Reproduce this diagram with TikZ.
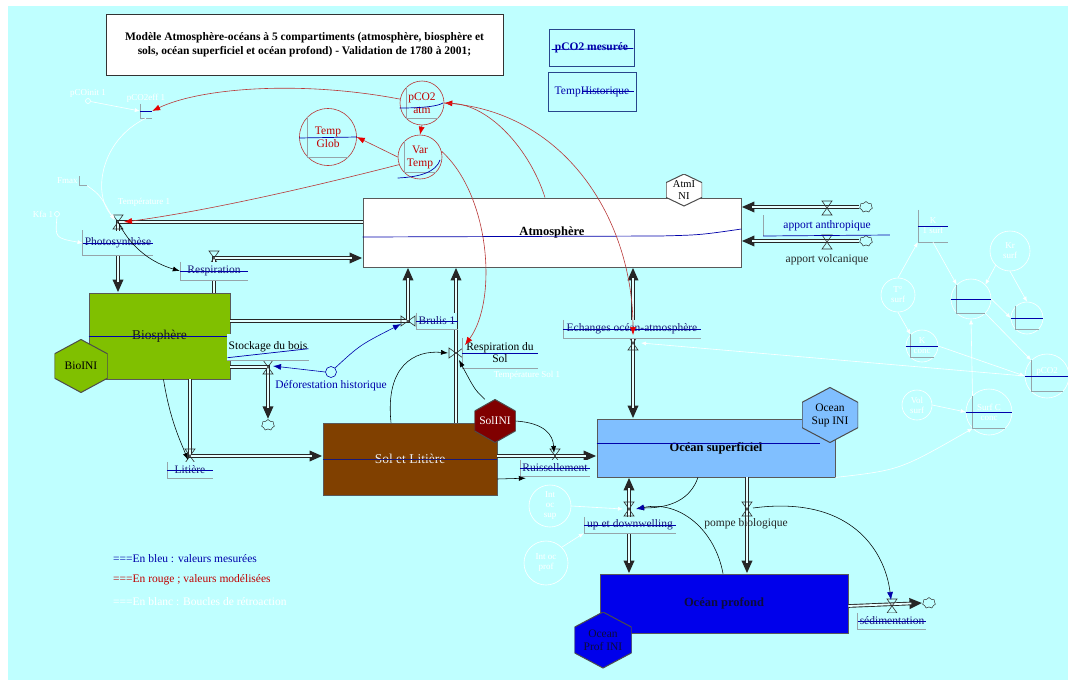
\documentclass[tikz,border=0pt]{standalone}
\usepackage{fontspec}
\setmainfont{Liberation Serif}
\usetikzlibrary{arrows.meta,calc,shapes.symbols,positioning}
\definecolor{bgcyan}{RGB}{191,255,255}
\definecolor{biogreen}{RGB}{128,192,0}
\definecolor{solbrown}{RGB}{128,64,0}
\definecolor{inired}{RGB}{128,0,0}
\definecolor{supblue}{RGB}{128,191,255}
\definecolor{profblue}{RGB}{0,0,235}
\definecolor{modred}{RGB}{185,55,55}
\definecolor{tipred}{RGB}{230,0,0}
\definecolor{navy}{RGB}{25,25,120}
\definecolor{graphblue}{RGB}{0,0,170}
\definecolor{framegray}{RGB}{150,165,170}
\definecolor{boxblue}{RGB}{40,70,140}

\begin{document}
\begin{tikzpicture}[x=1pt, y=-1pt,
    every node/.style={font=\fontsize{11.5}{13}\selectfont, inner sep=1pt, align=center},
    stock/.style 2 args={draw=black!65, line width=0.9pt, minimum width=#1, minimum height=#2, inner sep=0},
    hexa/.style n args={3}{minimum width=#1, minimum height=#2, inner sep=0,
        path picture={\filldraw[fill=#3, draw=black!70, line width=1pt]
            (path picture bounding box.north)
            -- ($(path picture bounding box.north east)!.27!(path picture bounding box.south east)$)
            -- ($(path picture bounding box.north east)!.73!(path picture bounding box.south east)$)
            -- (path picture bounding box.south)
            -- ($(path picture bounding box.north west)!.73!(path picture bounding box.south west)$)
            -- ($(path picture bounding box.north west)!.27!(path picture bounding box.south west)$)
            -- cycle;}},
    pipe/.style={draw=black!85, line width=3.6pt, -{Triangle[length=13pt,width=10pt]},
        postaction={draw=white!60!bgcyan, line width=1.8pt, -, shorten >=11pt}},
    bipipe/.style={draw=black!85, line width=3.6pt, {Triangle[length=13pt,width=10pt]}-{Triangle[length=13pt,width=10pt]},
        postaction={draw=white!60!bgcyan, line width=1.8pt, -, shorten >=11pt, shorten <=11pt}},
    valve/.style={draw=black!80, line width=0.6pt},
    sink/.style={cloud, cloud puffs=7, draw=black!80, line width=0.5pt, minimum width=13, minimum height=11, inner sep=0},
    flowlab/.style={fill=bgcyan, text=navy, minimum height=16, inner xsep=2pt},
    grframe/.style={draw=framegray, line width=0.6pt},
    graphline/.style={draw=graphblue, line width=0.7pt},
    conv/.style={circle, draw=modred, line width=0.6pt, text=red!75!black, inner sep=0},
    info/.style={draw=black, line width=0.55pt, -{Latex[length=7pt,width=5pt]}},
    modinfo/.style={draw=modred, line width=0.6pt, -{Latex[length=8pt,width=6pt,color=tipred]}},
    bluetip/.style={-{Latex[length=8pt,width=6pt,color=graphblue]}},
    ghosttext/.style={text=white, font=\fontsize{9}{10}\selectfont},
    ghostc/.style={ghosttext, circle, draw=white, line width=0.6pt, inner sep=0},
    ghostarrow/.style={draw=white, line width=0.6pt, -{Latex[length=5pt,width=4pt]}}
]
\useasboundingbox (0,0) rectangle (1068,688);
\fill[white] (0,0) rectangle (1068,688);
\fill[bgcyan] (8,6) rectangle (1068,680);

% valves
\coordinate (vphoto) at (118,222);
\coordinate (vresp) at (214,258);
\coordinate (vbrul) at (408,321);
\coordinate (vdefo) at (268,367);
\coordinate (vrsol) at (456,353);
\coordinate (vlit) at (190,456);
\coordinate (vruis) at (555,456);
\coordinate (vech) at (633,343);
\coordinate (vanth) at (827,208);
\coordinate (vvolc) at (827,242);
\coordinate (vup) at (629,509);
\coordinate (vpompe) at (747,509);
\coordinate (vsed) at (892,606);

% feedback loops drawn in white
\node[ghostc, minimum size=5, label={[ghosttext]above:pCOinit 1}] (gpinit) at (88,101) {};
\node[minimum width=12, minimum height=14, inner sep=0, label={[ghosttext]above:pCO2eff 1}] (gpeff) at (146,111) {};
\node[minimum width=8, minimum height=9, inner sep=0, label={[ghosttext]left:Fmax}] (gfmax) at (83,181) {};
\node[ghostc, minimum size=5, label={[ghosttext]left:Kfa 1}] (gkfa) at (57,214) {};
\node[ghosttext] (gtemp) at (144,202) {Température 1};
\node[ghosttext] (gtsol) at (527,375) {Température Sol 1};
\node[ghosttext, minimum width=30, minimum height=32, inner sep=0] (gk1) at (933,226) {K\\1 surf};
\node[ghostc, minimum size=40] (gkr) at (1010,251) {Kr\\surf};
\node[ghostc, minimum size=34] (gtsurf) at (898,295) {T°\\surf};
\node[ghostc, minimum size=40] (gsolub) at (971,299) {};
\node[ghostc, minimum size=32] (gcoef) at (1027,318) {};
\node[ghostc, minimum size=32] (gkconc) at (922,346) {K\\conc};
\node[ghostc, minimum size=44] (gpco2s) at (1047,376) {pCO2\\~};
\node[ghostc, minimum size=30] (gvol) at (917,405) {Vol\\surf};
\node[ghostc, minimum size=46] (gsurfc) at (989,412) {Surf C\\conc};
\node[ghostc, minimum size=42] (gintsup) at (550,506) {Int\\oc\\sup};
\node[ghostc, minimum size=44] (gintprof) at (546,563) {Int oc\\prof};
\foreach \n in {gpeff,gfmax,gk1,gsolub,gcoef,gkconc,gpco2s,gsurfc}
  \draw[grframe] (\n.north west) |- (\n.south east);
\foreach \n in {gpeff,gk1,gsolub,gcoef,gkconc,gpco2s,gsurfc}
  \draw[graphline] (\n.west) -- (\n.east);

% title and data boxes
\node[draw=black!80, fill=white, minimum width=397, minimum height=61,
      font=\fontsize{11.5}{14}\selectfont\bfseries] (title) at (304.5,44.5)
  {Modèle Atmosphère-océans à 5 compartiments (atmosphère, biosphère et\\sols, océan superficiel et océan profond) - Validation de 1780 à 2001;};
\node[draw=boxblue, line width=0.9pt, minimum width=85, minimum height=37, text=graphblue,
      font=\fontsize{11.5}{13}\selectfont\bfseries] (pmes) at (591.5,47.5) {pCO2 mesurée};
\node[draw=boxblue, line width=0.9pt, minimum width=88, minimum height=39, text=graphblue] (thist) at (592,91.5) {TempHistorique};
\draw[graphline] ($(pmes.west)+(3,2)$) -- ($(pmes.east)+(-1,1)$);
\draw[graphline] ($(thist.center)+(-10,0)$) -- ($(thist.east)+(-2,0)$);

% stocks
\node[stock={378}{69}, fill=white, font=\fontsize{12.5}{14}\selectfont\bfseries] (atm) at (552,232.5) {Atmosphère};
\node[stock={141}{86}, fill=biogreen, text=black!90, font=\fontsize{13.5}{15}\selectfont] (bio) at (159.5,336) {Biosphère};
\node[stock={174}{72}, fill=solbrown, text=white!85!gray, font=\fontsize{13.5}{15}\selectfont] (sol) at (410,459) {Sol et Litière};
\node[stock={238}{58}, fill=supblue, font=\fontsize{12.5}{14}\selectfont\bfseries] (osup) at (716,448) {Océan superficiel};
\node[stock={248}{59}, fill=profblue, text=black!50!navy, font=\fontsize{12.5}{14}\selectfont\bfseries] (oprof) at (724,603.5) {Océan profond};
\draw[graphline] (atm.west |- 0,237) -- (660,236) .. controls (700,235) .. (atm.east |- 0,229);
\draw[graphline] (bio.west) -- ($(bio.east)+(-3,0)$);
\draw[graphline, draw=navy] (sol.west) -- (sol.east);
\draw[graphline] (osup.west |- 0,443) -- (820,443);

% initial values
\node[hexa={53}{53}{biogreen}] (bioini) at (81,366) {BioINI};
\node[hexa={41}{43}{inired}, text=white] (solini) at (495,421) {SolINI};
\node[hexa={36}{32}{white}, font=\fontsize{10.5}{12}\selectfont] (atmini) at (684,190) {AtmI\\NI};
\node[hexa={56}{55}{supblue}] (osupini) at (830,415) {Ocean\\Sup INI};
\node[hexa={57}{56}{profblue}, text=black!50!navy] (oprofini) at (603,640) {Ocean\\Prof INI};

% sources and sinks
\node[sink] (canth) at (866,207) {};
\node[sink] (cvolc) at (866,241) {};
\node[sink] (cdefo) at (268,425) {};
\node[sink] (csed) at (929,603) {};

% flows
\draw[pipe] (canth.west) -- (atm.east |- canth.west);
\draw[pipe] (cvolc.west) -- (atm.east |- cvolc.west);
\draw[pipe] (atm.west |- vphoto) -- (vphoto) -- (vphoto |- bio.north);
\draw[pipe] (vresp |- bio.north) -- (vresp) -- (atm.west |- vresp);
\draw[pipe] (bio.east |- vbrul) -- (vbrul) -- (vbrul |- atm.south);
\draw[pipe] (bio.east |- vdefo) -- (vdefo) -- (cdefo.north);
\draw[pipe] (vrsol |- sol.north) -- (vrsol |- atm.south);
\draw[pipe] (vlit |- bio.south) -- (vlit) -- (sol.west |- vlit);
\draw[pipe] (sol.east |- vruis) -- (osup.west |- vruis);
\draw[bipipe] (vech |- atm.south) -- (vech |- osup.north);
\draw[bipipe] (vup |- osup.south) -- (vup |- oprof.north);
\draw[pipe] (vpompe |- osup.south) -- (vpompe |- oprof.north);
\draw[pipe] (oprof.east |- vsed) -- (csed.west);
\foreach \v in {vphoto,vresp,vdefo,vlit,vruis,vech,vanth,vvolc,vup,vpompe,vsed}
  \draw[valve] (\v) ++(-5,-7) -- ++(10,0) -- ++(-10,14) -- ++(10,0) -- cycle;
\foreach \v in {vbrul,vrsol}
  \draw[valve] (\v) ++(-7,-5) -- ++(0,10) -- ++(14,-10) -- ++(0,10) -- cycle;

% flow labels
\node[flowlab, minimum width=70, minimum height=25] (lphoto) at (118,243) {Photosynthèse};
\node[flowlab, minimum width=68, minimum height=18] (lresp) at (214,271) {Respiration};
\node[flowlab, minimum width=40] (lbrul) at (437,321) {Brulis 1};
\node[flowlab, text=black, minimum width=81, minimum height=27] (lstock) at (268,347) {Stockage du bois};
\node[flowlab, text=black, minimum width=76, minimum height=30, font=\fontsize{11.5}{12}\selectfont] (lrsol) at (500,353) {Respiration du\\Sol};
\node[flowlab, minimum width=46] (llit) at (190,470) {Litière};
\node[flowlab, minimum width=70] (lruis) at (555,468) {Ruissellement};
\node[flowlab, minimum width=138, minimum height=18] (lech) at (632,329) {Echanges océan-atmosphère};
\node[flowlab, minimum width=92] (lup) at (630,525) {up et downwelling};
\node[flowlab, minimum width=68] (lsed) at (892,621) {sédimentation};
\node[text=black!85] (lpompe) at (746,524) {pompe biologique};
\node[text=graphblue] (lanth) at (827,226) {apport anthropique};
\node[text=black!85] (lvolc) at (827,260) {apport volcanique};
\node[text=graphblue] (ldefo) at (331,386) {Déforestation historique};
\node[circle, draw=graphblue, line width=0.6pt, minimum size=11, inner sep=0] (cdefoh) at (331,372) {};
\foreach \l in {lphoto,lresp,lbrul,lrsol,llit,lruis,lech,lup,lsed}
  \draw[grframe] (\l.north west) |- (\l.south east);
\foreach \l in {lphoto,lresp,lbrul,lrsol,llit,lruis,lech,lup,lsed}
  \draw[graphline] (\l.west) -- (\l.east);
\draw[grframe] (lstock.south west) -- (lstock.south east);
\draw[graphline] ($(lstock.south west)+(1,-3)$) -- ($(lstock.south east)+(-1,-12)$);
\draw[grframe] ($(lanth.west)+(-19,-11)$) -- ($(lanth.west)+(-19,10)$);
\draw[graphline] ($(lanth.west)+(-19,10)$) -- ($(lanth.east)+(18,9)$);

% converters
\node[conv, minimum size=44] (pco2atm) at (422,103) {pCO2\\atm};
\node[conv, minimum size=57] (tempglob) at (328,137) {Temp\\Glob};
\node[conv, minimum size=44] (vartemp) at (420,157) {Var\\Temp};
\foreach \n in {pco2atm,tempglob,vartemp}
  \draw[grframe] (\n.north west) |- (\n.south east);
\draw[graphline] (pco2atm.west |- 0,108) .. controls (425,108) and (438,106) .. (443,103);
\draw[graphline] (tempglob.west |- 0,138) -- (tempglob.east |- 0,137);
\draw[graphline] (vartemp.west |- 0,178) .. controls (420,177) and (436,172) .. (440,160);

% white connectors
\draw[ghostarrow] (gpinit) -- (gpeff.west);
\draw[ghostarrow] (gpeff.south) .. controls (100,140) and (92,195) .. ($(vphoto)+(-3,-3)$);
\draw[ghostarrow] (gfmax.south east) .. controls (100,195) .. ($(vphoto)+(-4,-2)$);
\draw[ghostarrow] (gkfa.south) .. controls (55,238) .. (lphoto.west);
\draw[ghostarrow] (gk1.south) -- (gsolub.north west);
\draw[ghostarrow] (gkr.south west) -- (gsolub.north east);
\draw[ghostarrow] (gkr.south) -- (gcoef.north);
\draw[ghostarrow] (gsolub.east) -- (gcoef.west);
\draw[ghostarrow] (gtsurf.north) -- (gk1.south west);
\draw[ghostarrow] (gtsurf.south) -- (gkconc.north west);
\draw[ghostarrow] (gsolub.south east) -- (gpco2s.north west);
\draw[ghostarrow] (gsurfc.north west) -- (gsolub.south);
\draw[ghostarrow] (gvol.east) -- (gsurfc.west);
\draw[ghostarrow] (gkconc.east) -- (gpco2s.west);
\draw[ghostarrow] (gpco2s.west) -- ($(vech)+(8,0)$);
\draw[ghostarrow] (osup.south east) .. controls (900,470) .. (gsurfc.south west);
\draw[ghostarrow] (gintsup.east) -- ($(vup)+(-6,0)$);
\draw[ghostarrow] (gintprof.north east) -- (lup.south west);

% modelled links
\draw[modinfo] (pco2atm.south) -- (vartemp.north);
\draw[modinfo] (vartemp.west) -- (tempglob.east);
\draw[modinfo] (pco2atm.170) .. controls (300,80) and (200,88) .. (gpeff.east);
\draw[modinfo] (vartemp.200) .. controls (300,190) and (200,212) .. ($(vphoto)+(6,0)$);
\draw[modinfo] (vartemp.15) .. controls (490,195) and (498,300) .. ($(vrsol)+(9,-8)$);
\draw[modinfo] ($(atm.north)+(-7,0)$) .. controls (530,150) and (490,105) .. (pco2atm.east);
\draw[modinfo] (pco2atm.east) .. controls (565,110) and (633,220) .. ($(vech)+(0,-8)$);

% information links
\draw[info] (vphoto) .. controls (135,255) and (160,265) .. (lresp.west);
\draw[info] ($(bio.south)+(4,0)$) .. controls (170,420) and (180,440) .. ($(vlit)+(-2,4)$);
\draw[info] ($(sol.north)+(-19,0)$) .. controls (385,365) and (415,350) .. ($(vrsol)+(-8,0)$);
\draw[info] (solini.115) .. controls (475,390) .. ($(vrsol)+(3,7)$);
\draw[info] (solini.east) .. controls (545,423) and (553,435) .. ($(vruis)+(-1,-3)$);
\draw[info] ($(sol.east)+(0,20)$) -- ($(lruis.south west)+(6,2)$);
\draw[info] ($(osup.south)+(-18,0)$) .. controls (690,500) and (670,508) .. ($(vup)+(8,-1)$);
\draw[info, bluetip] ($(oprof.north)+(-1,0)$) .. controls (715,530) and (680,500) .. ($(vup)+(7,0)$);
\draw[info, bluetip] ($(vpompe)+(6,-1)$) .. controls (850,495) and (885,550) .. ($(vsed)+(-1,-6)$);
\draw[draw=graphblue, line width=0.6pt, bluetip] (cdefoh.north east) .. controls (360,345) .. ($(vbrul)+(-7,3)$);
\draw[draw=graphblue, line width=0.6pt, bluetip] (cdefoh.west) -- ($(vdefo)+(5,-1)$);

% legend
\node[anchor=west, text=graphblue] (legbleu) at (112,559) {===En bleu : valeurs mesurées};
\node[anchor=west, text=red!75!black] (legrouge) at (112,580) {===En rouge ; valeurs modélisées};
\node[anchor=west, text=white] (legblanc) at (112,602) {===En blanc : Boucles de rétroaction};
\end{tikzpicture}
\end{document}
